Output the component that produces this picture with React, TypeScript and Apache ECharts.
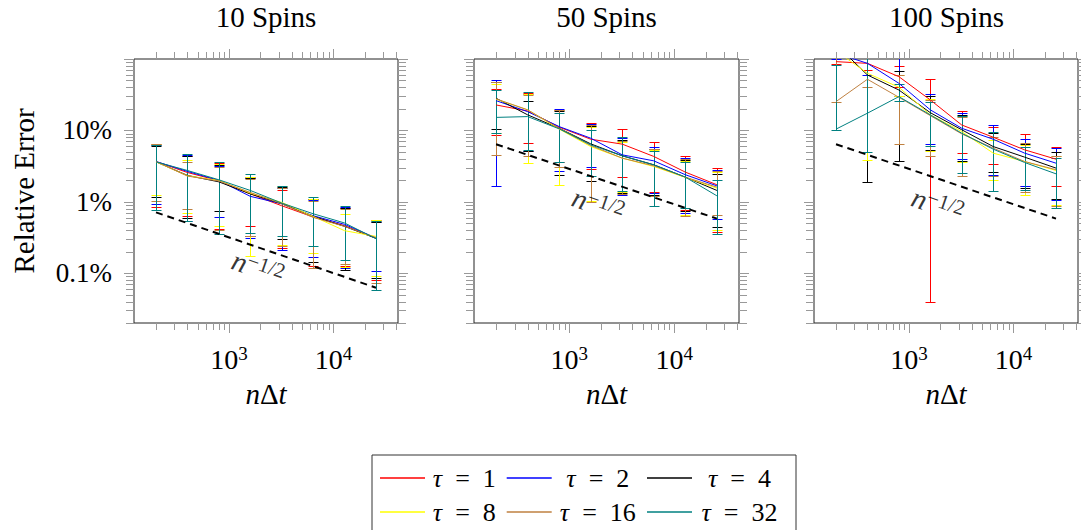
import React, { useEffect, useRef } from 'react';
import * as echarts from 'echarts';

const FONT = "'Liberation Serif', 'DejaVu Serif', serif";

// ---------------- data ----------------
const nDt = [200, 400, 800, 1600, 3200, 6400, 12800, 25600];
const tauNames = ['τ = 1', 'τ = 2', 'τ = 4', 'τ = 8', 'τ = 16', 'τ = 32'];
const tauColors = ['#ff0000', '#0000ff', '#000000', '#ffff00', '#bf8040', '#008080'];
const panelTitles = ['10 Spins', '50 Spins', '100 Spins'];

// relative error in percent, one row per tau (1, 2, 4, 8, 16, 32)
const mean10 = [
  [3.66, 2.57, 1.97, 1.29, 0.879, 0.611, 0.462, 0.31],
  [3.66, 2.66, 1.99, 1.19, 0.938, 0.637, 0.482, 0.31],
  [3.62, 2.34, 1.9, 1.29, 0.938, 0.624, 0.452, 0.307],
  [3.62, 2.31, 1.99, 1.32, 0.979, 0.624, 0.393, 0.327],
  [3.66, 2.29, 1.95, 1.35, 0.938, 0.604, 0.452, 0.314],
  [3.62, 2.74, 2.03, 1.44, 0.958, 0.679, 0.504, 0.304],
];
const high10 = [
  [6.54, 4.31, 3.47, 2.21, 1.47, 1.09, 0.815, 0.548],
  [6.27, 4.54, 3.19, 2.14, 1.55, 1.07, 0.842, 0.52],
  [6.07, 4.4, 3.29, 2.14, 1.6, 1.09, 0.815, 0.52],
  [6.34, 3.87, 3.36, 2.19, 1.64, 1.11, 0.679, 0.56],
  [6.41, 3.66, 3.05, 2.07, 1.55, 1.04, 0.789, 0.53],
  [6.2, 4.69, 3.66, 2.46, 1.67, 1.15, 0.861, 0.531],
];
const low10 = [
  [0.842, 0.64, 0.415, 0.452, 0.225, 0.127, 0.127, 0.0811],
  [0.938, 0.54, 0.611, 0.31, 0.213, 0.168, 0.118, 0.106],
  [1.16, 0.592, 0.733, 0.335, 0.301, 0.143, 0.112, 0.085],
  [1.25, 0.694, 0.452, 0.172, 0.25, 0.191, 0.122, 0.0904],
  [1.04, 0.789, 0.4, 0.327, 0.237, 0.118, 0.136, 0.0728],
  [0.773, 0.531, 0.353, 0.365, 0.327, 0.237, 0.151, 0.0588],
];

const mean50 = [
  [22.7, 18.7, 11.1, 7.52, 6.41, 4.31, 2.6, 1.73],
  [26.1, 18.3, 11.3, 7.77, 4.54, 3.74, 2.39, 1.67],
  [28.2, 16.5, 10.7, 6.47, 4.4, 3.29, 2.21, 1.44],
  [27.3, 19.4, 10.4, 5.94, 4.08, 3.12, 2.19, 1.55],
  [27.6, 19.4, 10.7, 6.14, 4.08, 3.19, 2.21, 1.6],
  [15.2, 15.6, 10.5, 6.27, 4.4, 3.29, 2.21, 1.21],
];
const high50 = [
  [37.7, 33.1, 19.4, 12.6, 10.4, 6.83, 4.31, 2.96],
  [50.8, 32.4, 19.8, 12.3, 7.77, 5.82, 4.08, 2.81],
  [47.2, 26.1, 18.7, 11.6, 7.36, 5.5, 3.87, 2.46],
  [44.3, 32.0, 19.0, 11.1, 6.98, 5.34, 3.74, 2.57],
  [48.2, 31.4, 19.4, 11.8, 7.2, 5.46, 3.95, 2.66],
  [36.8, 34.2, 17.7, 10.2, 8.2, 5.16, 3.66, 2.03],
];
const low50 = [
  [8.65, 6.62, 3.55, 2.9, 2.21, 1.35, 0.773, 0.372],
  [1.64, 5.16, 2.66, 3.02, 1.25, 1.32, 0.694, 0.573],
  [10.4, 5.22, 2.39, 1.97, 1.32, 1.25, 0.733, 0.443],
  [9.13, 3.47, 1.73, 1.01, 1.35, 1.21, 0.66, 0.397],
  [4.54, 4.31, 3.02, 0.979, 1.29, 1.19, 0.624, 0.644],
  [9.3, 5.34, 3.66, 2.31, 1.4, 0.879, 0.815, 0.357],
];

const mean100 = [
  [91.8, 86.9, 56.6, 26.7, 11.9, 8.02, 5.34, 3.95],
  [121, 86.9, 45.7, 19.4, 10.7, 7.52, 4.8, 3.47],
  [160, 59.7, 36.8, 17.7, 10.2, 5.94, 4.22, 2.96],
  [130, 63.1, 40.2, 16.5, 9.64, 4.8, 3.66, 2.74],
  [25.3, 52.0, 29.1, 16.1, 8.93, 5.64, 3.66, 2.81],
  [10.4, 17.4, 29.7, 16.5, 9.13, 5.46, 3.55, 2.46],
];
const high100 = [
  [150, 120, 80, 52.5, 18.7, 11.0, 8.93, 5.94],
  [150, 130, 130, 32.4, 17.4, 11.9, 7.52, 5.64],
  [200, 170, 68.7, 30.4, 16.5, 9.13, 6.47, 4.9],
  [180, 150, 60, 27.6, 16.1, 7.36, 6.27, 4.31],
  [120, 110, 60, 26.7, 15.6, 8.02, 6.76, 4.4],
  [82.4, 110, 45, 25.3, 16.1, 9.64, 5.82, 4.08],
];
const low100 = [
  [85, 70, 40, 0.0395, 4.8, 3.36, 1.67, 1.64],
  [100, 60, 30, 6.41, 3.95, 2.39, 1.64, 1.07],
  [110, 1.88, 3.74, 5.34, 3.74, 2.57, 1.55, 1.09],
  [102, 3.87, 30, 5.22, 3.55, 2.03, 1.25, 0.908],
  [25.3, 40, 6.47, 4.4, 2.26, 2.26, 1.35, 0.861],
  [10.0, 5.0, 26, 6.0, 2.52, 1.4, 1.47, 0.815],
];

// n^{-1/2} reference lines (percent)
const refX = [200, 25600];
const ref10 = [0.71, 0.0625];
const ref50 = [6.4, 0.58];
const ref100 = [6.4, 0.58];
const refLabelAt10 = [1900, 0.119];
const refLabelAt50 = [1890, 0.908];
const refLabelAt100 = [1890, 0.908];

// axes
const xMin = 123.1;
const xMax = 41584;
const yMin = 0.02;
const yMax = 100;
const xMajorTicks = [1000, 10000];
const xMinorTicks = [200, 300, 400, 500, 600, 700, 800, 900, 2000, 3000, 4000, 5000, 6000, 7000, 8000, 9000, 20000, 30000, 40000];
const yMajorTicks = [0.1, 1, 10, 100];
const yMinorTicks = [
  0.02, 0.03, 0.04, 0.05, 0.06, 0.07, 0.08, 0.09,
  0.2, 0.3, 0.4, 0.5, 0.6, 0.7, 0.8, 0.9,
  2, 3, 4, 5, 6, 7, 8, 9,
  20, 30, 40, 50, 60, 70, 80, 90,
];
const xLabelValues = [1000, 10000];
const xLabelExps = ['3', '4'];
const yLabelValues = [0.1, 1, 10];
const yLabelTexts = ['0.1%', '1%', '10%'];

const panels = [
  { mean: mean10, low: low10, high: high10, ref: ref10, lab: refLabelAt10 },
  { mean: mean50, low: low50, high: high50, ref: ref50, lab: refLabelAt50 },
  { mean: mean100, low: low100, high: high100, ref: ref100, lab: refLabelAt100 },
];

// ---------------- layout ----------------
const grids = [
  { left: 134, top: 59, width: 264, height: 264 },
  { left: 474, top: 59, width: 265, height: 264 },
  { left: 814, top: 59, width: 265, height: 264 },
];
const TICK_COLOR = '#999999';
const LEGEND_FONT = 26;
const legendCellW = [68.7, 82.3, 85];

function matchIndex(list: number[], v: number) {
  return list.findIndex((t) => Math.abs(t - v) / t < 1e-6);
}

export default function App() {
  const ref = useRef<HTMLDivElement>(null);

  useEffect(() => {
    if (!ref.current) return;
    const chart = echarts.init(ref.current, undefined, { renderer: 'svg' });

    // legend cell layout
    const canvas = document.createElement('canvas');
    const ctx = canvas.getContext('2d')!;
    const measure = (t: string, italic: boolean) => {
      ctx.font = `${italic ? 'italic ' : ''}${LEGEND_FONT}px 'Liberation Serif'`;
      return ctx.measureText(t).width;
    };
    const legendRest = tauNames.map((n) => n.slice(1).replace(/ /g, '\u2002'));
    const legendRich: any = {};
    tauNames.forEach((n, i) => {
      const T = measure('τ', true) + measure(legendRest[i], false);
      const W = legendCellW[i % 3];
      const padL = Math.max(0, (W - T) / 2);
      const padR = Math.max(0, W - T - padL);
      legendRich['t' + i] = { fontFamily: FONT, fontStyle: 'italic', fontSize: LEGEND_FONT, color: '#000', padding: [0, 0, 0, padL] };
      legendRich['r' + i] = { fontFamily: FONT, fontSize: LEGEND_FONT, color: '#000', padding: [0, padR, 0, 0] };
    });

    const xAxes: any[] = [];
    const yAxes: any[] = [];
    const series: any[] = [];

    const tickData: any[] = [
      ...xMinorTicks.map((v) => [v, 1, 0]),
      ...xMajorTicks.map((v) => [v, 1, 1]),
      ...yMinorTicks.map((v) => [1000, v, 2]),
      ...yMajorTicks.map((v) => [1000, v, 3]),
    ];

    panels.forEach((p, pi) => {
      xAxes.push({
        type: 'log',
        gridIndex: pi,
        min: xMin,
        max: xMax,
        axisLine: { show: false },
        axisTick: { show: false },
        splitLine: { show: false },
        axisLabel: {
          margin: 21,
          formatter: (v: number) => {
            const i = matchIndex(xLabelValues, v);
            return i < 0 ? '' : `{b|10}{s|${xLabelExps[i]}}`;
          },
          rich: {
            b: { fontFamily: FONT, fontSize: 28, color: '#000', lineHeight: 30 },
            s: { fontFamily: FONT, fontSize: 19, color: '#000', lineHeight: 20, verticalAlign: 'top' },
          },
        },
        name: '{i|n}{r|Δ}{i|t}',
        nameLocation: 'middle',
        nameGap: 56,
        nameTextStyle: {
          rich: {
            i: { fontFamily: FONT, fontStyle: 'italic', fontSize: 29, color: '#000' },
            r: { fontFamily: FONT, fontSize: 29, color: '#000' },
          },
        },
      });
      yAxes.push({
        type: 'log',
        gridIndex: pi,
        min: yMin,
        max: yMax,
        axisLine: { show: false },
        axisTick: { show: false },
        splitLine: { show: false },
        axisLabel: {
          show: pi === 0,
          margin: 22,
          fontFamily: FONT,
          fontSize: 27,
          color: '#000',
          formatter: (v: number) => {
            const i = matchIndex(yLabelValues, v);
            return i < 0 ? '' : yLabelTexts[i];
          },
        },
        name: pi === 0 ? 'Relative Error' : '',
        nameLocation: 'middle',
        nameGap: 96,
        nameTextStyle: { fontFamily: FONT, fontSize: 29, color: '#000' },
      });

      // axis ticks (outside, mirrored on all four sides)
      series.push({
        type: 'custom',
        xAxisIndex: pi,
        yAxisIndex: pi,
        silent: true,
        clip: false,
        encode: { x: 0, y: 1 },
        data: tickData,
        renderItem: (params: any, api: any) => {
          const cs = params.coordSys;
          const kind = api.value(2);
          const pt = api.coord([api.value(0), api.value(1)]);
          const style = { stroke: TICK_COLOR, lineWidth: 1 };
          if (kind <= 1) {
            const len = kind === 1 ? 10 : 7;
            const x = Math.round(pt[0]) + 0.5;
            const b = cs.y + cs.height;
            return {
              type: 'group',
              children: [
                { type: 'line', shape: { x1: x, y1: b, x2: x, y2: b + len }, style },
                { type: 'line', shape: { x1: x, y1: cs.y, x2: x, y2: cs.y - len }, style },
              ],
            };
          }
          const len = kind === 3 ? 10 : 8;
          const y = Math.round(pt[1]) + 0.5;
          const r = cs.x + cs.width;
          return {
            type: 'group',
            children: [
              { type: 'line', shape: { x1: cs.x, y1: y, x2: cs.x - len, y2: y }, style },
              { type: 'line', shape: { x1: r, y1: y, x2: r + len, y2: y }, style },
            ],
          };
        },
      });

      tauNames.forEach((name, k) => {
        const color = tauColors[k];
        series.push({
          type: 'line',
          name,
          xAxisIndex: pi,
          yAxisIndex: pi,
          data: nDt.map((x, j) => [x, p.mean[k][j]]),
          symbol: 'none',
          lineStyle: { color, width: 1 },
          itemStyle: { color },
        });
        series.push({
          type: 'custom',
          xAxisIndex: pi,
          yAxisIndex: pi,
          clip: true,
          silent: true,
          encode: { x: 0, y: [1, 2] },
          data: nDt.map((x, j) => [x, p.low[k][j], p.high[k][j]]),
          renderItem: (params: any, api: any) => {
            const xv = api.value(0);
            const lo = api.coord([xv, api.value(1)]);
            const hi = api.coord([xv, api.value(2)]);
            const x = Math.round(lo[0]) + 0.5;
            const yl = Math.round(lo[1]) + 0.5;
            const yh = Math.round(hi[1]) + 0.5;
            const hw = 5;
            const style = { stroke: color, lineWidth: 1, fill: null };
            return {
              type: 'group',
              children: [
                { type: 'line', shape: { x1: x, y1: yl, x2: x, y2: yh }, style },
                { type: 'line', shape: { x1: x - hw, y1: yl, x2: x + hw, y2: yl }, style },
                { type: 'line', shape: { x1: x - hw, y1: yh, x2: x + hw, y2: yh }, style },
              ],
            };
          },
        });
      });

      series.push({
        type: 'line',
        xAxisIndex: pi,
        yAxisIndex: pi,
        data: refX.map((x, j) => [x, p.ref[j]]),
        symbol: 'none',
        silent: true,
        lineStyle: { color: '#000', width: 2, type: [7, 5] },
        z: 3,
      });
      series.push({
        type: 'scatter',
        xAxisIndex: pi,
        yAxisIndex: pi,
        data: [p.lab],
        symbolSize: 1,
        silent: true,
        itemStyle: { color: 'rgba(0,0,0,0)' },
        z: 4,
        label: {
          show: true,
          position: 'inside',
          rotate: -19,
          color: '#000',
          formatter: '{n|n}{s|−1/2}',
          rich: {
            n: { fontFamily: FONT, fontStyle: 'italic', fontSize: 29, color: '#000', lineHeight: 30 },
            s: { fontFamily: FONT, fontSize: 21, color: '#000', lineHeight: 20, verticalAlign: 'top' },
          },
        },
      });
    });

    const option: any = {
      animation: false,
      backgroundColor: '#ffffff',
      title: panelTitles.map((t, i) => ({
        text: t,
        left: grids[i].left + grids[i].width / 2,
        top: 2,
        padding: 0,
        textAlign: 'center',
        textStyle: { fontFamily: FONT, fontSize: 29, fontWeight: 'normal', color: '#000' },
      })),
      grid: grids.map((g) => ({ ...g, show: true, borderColor: '#222222', borderWidth: 1, backgroundColor: 'transparent' })),
      xAxis: xAxes,
      yAxis: yAxes,
      legend: {
        data: tauNames,
        left: 372,
        top: 455,
        width: 420,
        orient: 'horizontal',
        icon: 'rect',
        itemWidth: 45,
        itemHeight: 1.5,
        itemGap: 8,
        padding: [10, 14, 12, 8],
        borderColor: '#333333',
        borderWidth: 1,
        selectedMode: false,
        textStyle: { fontFamily: FONT, fontSize: LEGEND_FONT, color: '#000', lineHeight: 25, rich: legendRich },
        formatter: (name: string) => {
          const i = tauNames.indexOf(name);
          return `{t${i}|τ}{r${i}|${legendRest[i]}}`;
        },
      },
      series,
    };

    chart.setOption(option);
    return () => chart.dispose();
  }, []);

  return (
    <div
      ref={ref}
      style={{ position: 'fixed', left: 0, top: 0, width: 1081, height: 530, background: '#fff' }}
    />
  );
}
